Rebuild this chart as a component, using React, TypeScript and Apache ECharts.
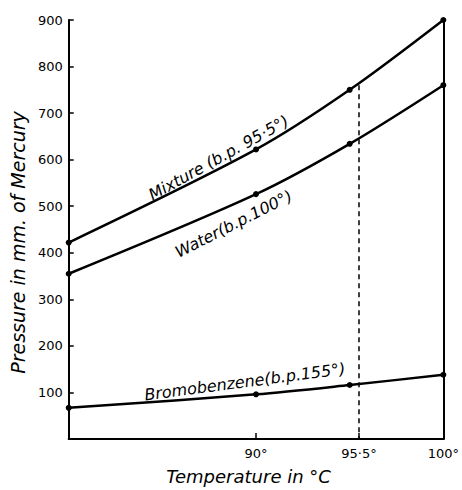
import React, { useEffect, useRef } from "react";
import * as echarts from "echarts";

const temps = [80, 90, 95, 100];
const water = [355, 526, 634, 760];
const bromobenzene = [67, 96, 116, 138];
const mixture = [422, 622, 750, 900];
const yTickValues = [100, 200, 300, 400, 500, 600, 700, 800, 900];
const xTickValues = [90, 95.5];
const xLabelValues = [90, 95.5, 100];
const xLabelText: Record<string, string> = { "90": "90°", "95.5": "95·5°", "100": "100°" };
const mixtureBp = 95.5;
const atmPressure = 760;

const curveLabels = [
  { text: "Mixture (b.p. 95·5°)", at: [88.0, 604], angle: 29 },
  { text: "Water(b.p.100°)", at: [88.8, 462], angle: 27 },
  { text: "Bromobenzene(b.p.155°)", at: [89.4, 123], angle: 7.5 },
];

const FONT = "DejaVu Sans";

export default function App() {
  const ref = useRef<HTMLDivElement>(null);
  useEffect(() => {
    const chart = echarts.init(ref.current!, null, { renderer: "svg" });
    const mk = (name: string, vals: number[], smooth: number, extra: any = {}) => ({
      name,
      type: "line",
      smooth,
      data: temps.map((t, i) => [t, vals[i]]),
      symbol: "circle",
      symbolSize: 6,
      itemStyle: { color: "#000" },
      lineStyle: { color: "#000", width: 2.5 },
      ...extra,
    });
    chart.setOption({
      animation: false,
      backgroundColor: "#fff",
      grid: { left: 68, right: 15, top: 20, bottom: 47 },
      xAxis: [
        {
          type: "value",
          min: 80,
          max: 100,
          interval: 0.5,
          splitLine: { show: false },
          axisLine: { lineStyle: { color: "#000", width: 2 } },
          axisTick: { show: true, inside: true, length: 6, customValues: xTickValues, lineStyle: { color: "#000", width: 1.5 } },
          axisLabel: {
            customValues: xLabelValues,
            formatter: (v: number) => xLabelText[String(v)] ?? "",
            color: "#000",
            fontFamily: FONT,
            fontSize: 13,
            margin: 8,
          },
          name: "Temperature in °C",
          nameLocation: "middle",
          nameGap: 28,
          nameTextStyle: { color: "#000", fontFamily: FONT, fontSize: 18, fontStyle: "italic", padding: [0, 15, 0, 0] },
        },
        {
          type: "value",
          position: "top",
          min: 80,
          max: 100,
          axisLine: { show: true, lineStyle: { color: "#000", width: 1 } },
          axisTick: { show: false },
          axisLabel: { show: false },
          splitLine: { show: false },
        },
      ],
      yAxis: [
        {
          type: "value",
          min: 0,
          max: 900,
          interval: 100,
          splitLine: { show: false },
          axisLine: { show: true, lineStyle: { color: "#000", width: 2 } },
          axisTick: { show: true, inside: true, length: 5, customValues: yTickValues, lineStyle: { color: "#000", width: 1.5 } },
          axisLabel: { customValues: yTickValues, color: "#000", fontFamily: FONT, fontSize: 13, margin: 6 },
          name: "Pressure in mm. of Mercury",
          nameLocation: "middle",
          nameGap: 37,
          nameTextStyle: { color: "#000", fontFamily: FONT, fontSize: 19, fontStyle: "italic", padding: [0, 26, 0, 0] },
        },
        {
          type: "value",
          position: "right",
          min: 0,
          max: 900,
          axisLine: { show: true, lineStyle: { color: "#000", width: 2 } },
          axisTick: { show: false },
          axisLabel: { show: false },
          splitLine: { show: false },
        },
      ],
      series: [
        mk("Mixture", mixture, 0.3, {
          markLine: {
            silent: true,
            symbol: "none",
            label: { show: false },
            lineStyle: { color: "#000", type: [5, 4], width: 1.5 },
            data: [[{ coord: [mixtureBp, atmPressure] }, { coord: [mixtureBp, 0] }]],
          },
        }),
        mk("Water", water, 0.3),
        mk("Bromobenzene", bromobenzene, 0.3),
      ],
    });
    const graphics = curveLabels.map((l) => {
      const p = chart.convertToPixel({ gridIndex: 0 }, l.at) as number[];
      return {
        type: "text",
        x: p[0],
        y: p[1],
        rotation: (l.angle * Math.PI) / 180,
        style: {
          text: l.text,
          fill: "#000",
          font: `italic 16px "${FONT}"`,
          align: "center",
          verticalAlign: "middle",
        },
      };
    });
    chart.setOption({ graphic: graphics });
    return () => chart.dispose();
  }, []);
  return <div ref={ref} style={{ position: "fixed", left: 0, top: 0, width: 462, height: 490 }} />;
}
